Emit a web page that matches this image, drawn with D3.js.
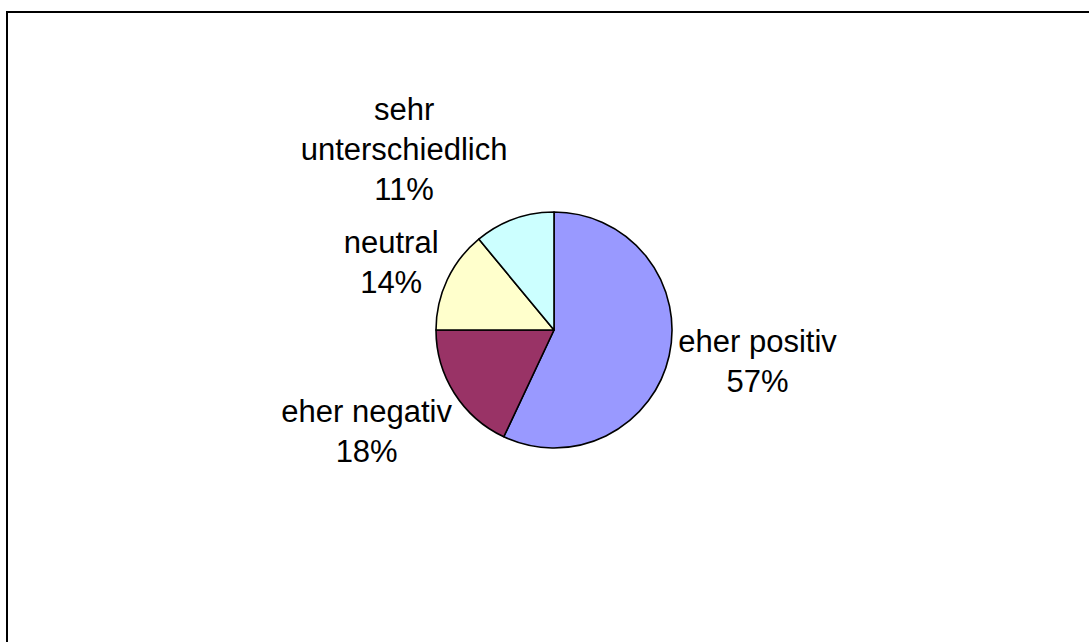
<!DOCTYPE html>
<html>
<head>
<meta charset="utf-8">
<script src="https://cdn.jsdelivr.net/npm/d3@7"></script>
<style>
  html, body { margin: 0; padding: 0; background: #fff; }
  svg { display: block; }
  text { font-family: "Liberation Sans", Arial, sans-serif; fill: #000; }
</style>
</head>
<body>
<svg id="chart" width="1089" height="642"></svg>
<script>
// Survey answers and their shares (percent)
const categories = ["eher positiv", "eher negativ", "neutral", "sehr unterschiedlich"];
const values = [57, 18, 14, 11];
const labelLines = [["eher positiv"], ["eher negativ"], ["neutral"], ["sehr", "unterschiedlich"]];
const colors = ["#9999FF", "#993366", "#FFFFCC", "#CCFFFF"];

const W = 1089, H = 642;
const cx = 554, cy = 330, r = 118;
const fontSize = 31, lineGap = 40;

// Fine adjustments of label blocks relative to their radial anchor
const labelNudge = {
  "eher positiv": [2, -3],
  "eher negativ": [-13, 1],
  "neutral": [24, 31],
  "sehr unterschiedlich": [-80, 24]
};

const svg = d3.select("#chart");

// chart area frame
svg.append("rect")
  .attr("x", 7).attr("y", 12)
  .attr("width", 1200).attr("height", 800)
  .attr("fill", "#fff")
  .attr("stroke", "#000")
  .attr("stroke-width", 2);

const data = categories.map((c, i) => ({ cat: c, value: values[i], lines: labelLines[i], color: colors[i] }));

const pie = d3.pie().value(d => d.value).sort(null);
const arcs = pie(data);

const arc = d3.arc().innerRadius(0).outerRadius(r);
const labelArc = d3.arc().innerRadius(r * 1.75).outerRadius(r * 1.75);

const g = svg.append("g").attr("transform", `translate(${cx},${cy})`);

g.selectAll("path.slice")
  .data(arcs)
  .join("path")
  .attr("class", "slice")
  .attr("d", arc)
  .attr("fill", d => d.data.color)
  .attr("stroke", "#000")
  .attr("stroke-width", 1.6)
  .attr("stroke-linejoin", "round");

const labels = g.selectAll("text.lbl")
  .data(arcs)
  .join("text")
  .attr("class", "lbl")
  .attr("text-anchor", "middle")
  .attr("font-size", fontSize)
  .each(function (d) {
    const [x, y] = labelArc.centroid(d);
    const [nx, ny] = labelNudge[d.data.cat] || [0, 0];
    const lines = d.data.lines.concat([Math.round(d.data.value) + "%"]);
    const n = lines.length;
    const t = d3.select(this);
    lines.forEach((ln, i) => {
      t.append("tspan")
        .attr("x", x + nx)
        .attr("y", y + ny + (i - (n - 1) / 2) * lineGap)
        .text(ln);
    });
  });
</script>
</body>
</html>
